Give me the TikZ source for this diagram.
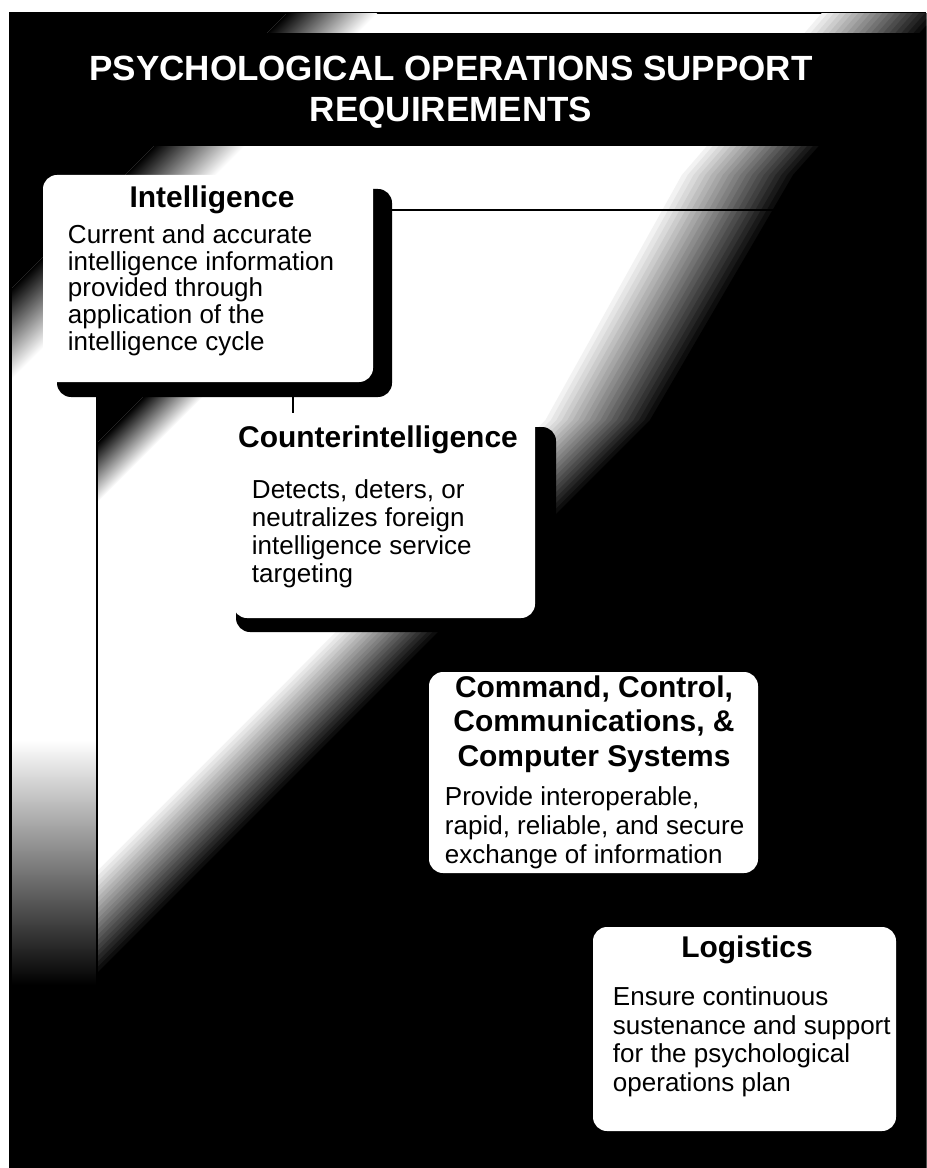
\documentclass[tikz,border=0pt]{standalone}
\usepackage{fontspec}
\setmainfont{Liberation Sans}
\usetikzlibrary{calc}

\newlength\pxu
\setlength\pxu{0.025cm}

\tikzset{
  card/.style={fill=white, rounded corners=3.5mm, inner sep=0pt, outer sep=0pt},
  cardshadow/.style={fill=black, rounded corners=3.5mm, inner sep=0pt, outer sep=0pt},
  head/.style={font=\fontsize{21.3}{24.2}\selectfont\bfseries, align=center, anchor=base},
  body/.style={font=\fontsize{18.5}{18.85}\selectfont, align=left, anchor=base west},
  link/.style={draw=black, line width=2.1pt},
}

\begin{document}
\begin{tikzpicture}[x=0.025cm,y=-0.025cm]
        % page and frame
        \fill[white] (0,0) rectangle (926,1168);
        \useasboundingbox (0,0) rectangle (926,1168);
        \fill[black] (9,12) rectangle (926,1168);
        % light band: white inside, dark upper and lower edges
        \coordinate (aw) at (827,0);   \coordinate (ab) at (949,0);
        \coordinate (bw) at (676,175); \coordinate (bb) at (793,175);
        \coordinate (cw) at (540,420); \coordinate (cb) at (650,420);
        \coordinate (dw) at (277,686); \coordinate (db) at (384,686);
        \coordinate (ew) at (-205,1168); \coordinate (eb) at (-98,1168);
        \begin{scope}
          \clip (12,14) rectangle (926,1168);
          \fill[white] (12,14) rectangle (926,1168);
          \begin{scope}[transform canvas={rotate around={-45:(0,0)}}]
            \fill[black] (0,-700) rectangle (212,900);
            \shade[left color=black,right color=white] (212,-700) rectangle (276,900);
          \end{scope}
          \foreach \k [evaluate=\k as \pct using int(5*\k)] in {1,...,20}
            \fill[black!\pct] ($(aw)!\k/20!(ab)$) -- ($(bw)!\k/20!(bb)$) -- ($(cw)!\k/20!(cb)$)
              -- ($(dw)!\k/20!(db)$) -- ($(ew)!\k/20!(eb)$) -- (-300,1300) -- (1100,1300) -- (1100,0) -- cycle;
          % left strip fades out sooner
          \shade[top color=white,bottom color=black] (12,740) rectangle (96,985);
          \fill[black] (12,985) rectangle (96,1168);
        \end{scope}
        % dark wedge under the first card
        \begin{scope}
          \clip (97,397) rectangle (232,520);
          \begin{scope}[transform canvas={rotate around={-45:(0,0)}}]
            \fill[black] (330,80) rectangle (382,340);
            \shade[left color=black,right color=white] (382,80) rectangle (424,340);
          \end{scope}
        \end{scope}
        % title bar
        \fill[black] (9,33) rectangle (926,146);
        \node[font=\fontsize{24.9}{29.2}\selectfont\bfseries, text=white, align=center, anchor=base] (title) at (451,122)
          {PSYCHOLOGICAL OPERATIONS SUPPORT\\REQUIREMENTS};

        % cards
        \node[cardshadow, minimum width=335\pxu, minimum height=208\pxu] (intelsh) at (224.5,293) {};
        \node[card, minimum width=330\pxu, minimum height=207\pxu] (intel) at (208,278.5) {};
        \node[cardshadow, minimum width=320\pxu, minimum height=205\pxu] (countersh) at (396,529.5) {};
        \node[card, minimum width=302\pxu, minimum height=205\pxu] (counter) at (384,515.5) {};
        \node[card, minimum width=329\pxu, minimum height=201\pxu] (comms) at (593.5,772.5) {};
        \node[card, minimum width=303\pxu, minimum height=204\pxu] (logist) at (744.5,1029) {};

        % connectors
        \coordinate (rightend) at (926,210);
        \coordinate (leftend) at (97,1005);
        \coordinate (tick) at (293,0);
        \draw[link] (intelsh.east |- rightend) -- (rightend);
        \draw[link] (intelsh.south -| leftend) -- (leftend);
        \draw[link] (intelsh.south -| tick) -- (counter.north -| tick);

        % texts (base = last line)
        \node[head] (inteltitle) at (212,208) {Intelligence};
        \node[body] (inteltext) at (63,350) {Current and accurate\\intelligence information\\provided through\\application of the\\intelligence cycle};
        \node[head] (countertitle) at (378,447) {Counterintelligence};
        \node[body, font=\fontsize{18.5}{19.9}\selectfont] (countertext) at (247,582) {Detects, deters, or\\neutralizes foreign\\intelligence service\\targeting};
        \node[head] (commstitle) at (594,766) {Command, Control,\\Communications, \&\\Computer Systems};
        \node[body, font=\fontsize{18.5}{20.6}\selectfont] (commstext) at (440,863) {Provide interoperable,\\rapid, reliable, and secure\\exchange of information};
        \node[head] (logisttitle) at (747,957) {Logistics};
        \node[body, font=\fontsize{18.5}{20.2}\selectfont] (logisttext) at (608,1091) {Ensure continuous\\sustenance and support\\for the psychological\\operations plan};
      \end{tikzpicture}
\end{document}
